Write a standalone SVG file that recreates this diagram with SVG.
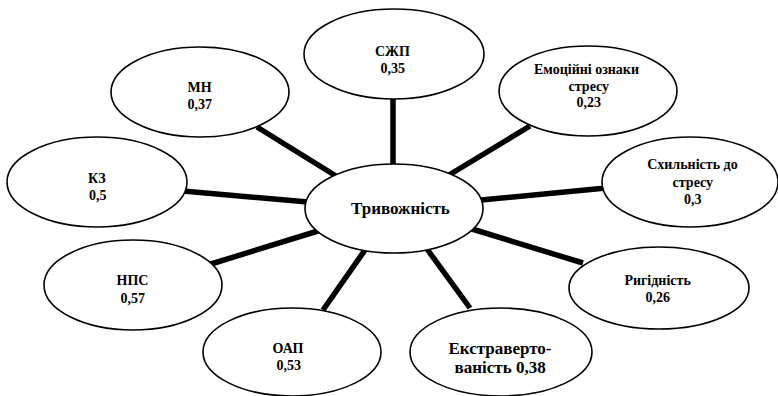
<svg xmlns="http://www.w3.org/2000/svg" width="778" height="396" viewBox="0 0 778 396">
<rect width="778" height="396" fill="#fff"/>
<g id="connectors" stroke="#000" stroke-width="5.5">
<line x1="393" y1="99" x2="393" y2="166"/>
<line x1="257" y1="127" x2="336" y2="176"/>
<line x1="183" y1="191" x2="308" y2="202"/>
<line x1="211" y1="264" x2="318" y2="231"/>
<line x1="323" y1="310" x2="365" y2="250"/>
<line x1="470" y1="308" x2="427" y2="249"/>
<line x1="472" y1="229" x2="583" y2="263"/>
<line x1="481" y1="200" x2="606" y2="188"/>
<line x1="449" y1="175" x2="530" y2="126"/>
</g>
<g id="n-szhp"><ellipse cx="394" cy="54" rx="90" ry="45" fill="#fff" stroke="#000" stroke-width="1.6"/><text font-family="Liberation Serif" font-weight="bold" font-size="14" x="375" y="56">СЖП</text><text font-family="Liberation Serif" font-weight="bold" font-size="14" x="380.5" y="73">0,35</text></g>
<g id="n-mn"><ellipse cx="200" cy="92" rx="89" ry="45" fill="#fff" stroke="#000" stroke-width="1.6"/><text font-family="Liberation Serif" font-weight="bold" font-size="14" x="187.6" y="92">МН</text><text font-family="Liberation Serif" font-weight="bold" font-size="14" x="187.5" y="109">0,37</text></g>
<g id="n-kz"><ellipse cx="97" cy="182" rx="90" ry="45" fill="#fff" stroke="#000" stroke-width="1.6"/><text font-family="Liberation Serif" font-weight="bold" font-size="14" x="88" y="183">КЗ</text><text font-family="Liberation Serif" font-weight="bold" font-size="14" x="89" y="200">0,5</text></g>
<g id="n-nps"><ellipse cx="133" cy="285" rx="89" ry="45" fill="#fff" stroke="#000" stroke-width="1.6"/><text font-family="Liberation Serif" font-weight="bold" font-size="14" x="116.6" y="285">НПС</text><text font-family="Liberation Serif" font-weight="bold" font-size="14" x="120.5" y="303">0,57</text></g>
<g id="n-oap"><ellipse cx="292" cy="352" rx="89" ry="44" fill="#fff" stroke="#000" stroke-width="1.6"/><text font-family="Liberation Serif" font-weight="bold" font-size="14" x="272.6" y="353">ОАП</text><text font-family="Liberation Serif" font-weight="bold" font-size="14" x="276.5" y="370">0,53</text></g>
<g id="n-ekstr"><ellipse cx="501" cy="352" rx="91" ry="44" fill="#fff" stroke="#000" stroke-width="1.6"/><text font-family="Liberation Serif" font-weight="bold" font-size="17" x="448.5" y="354">Екстраверто-</text><text font-family="Liberation Serif" font-weight="bold" font-size="17" x="454.6" y="373">ваність 0,38</text></g>
<g id="n-ryh"><ellipse cx="659" cy="288" rx="90" ry="41" fill="#fff" stroke="#000" stroke-width="1.6"/><text font-family="Liberation Serif" font-weight="bold" font-size="14" x="624.4" y="285">Ригідність</text><text font-family="Liberation Serif" font-weight="bold" font-size="14" x="645.5" y="302">0,26</text></g>
<g id="n-skh"><ellipse cx="690" cy="182" rx="88" ry="45" fill="#fff" stroke="#000" stroke-width="1.6"/><text font-family="Liberation Serif" font-weight="bold" font-size="14" x="647.2" y="169">Схильність до</text><text font-family="Liberation Serif" font-weight="bold" font-size="14" x="672.6" y="187">стресу</text><text font-family="Liberation Serif" font-weight="bold" font-size="14" x="684" y="204">0,3</text></g>
<g id="n-emo"><ellipse cx="588" cy="91" rx="89" ry="45" fill="#fff" stroke="#000" stroke-width="1.6"/><text font-family="Liberation Serif" font-weight="bold" font-size="14" x="534" y="74">Емоційні ознаки</text><text font-family="Liberation Serif" font-weight="bold" font-size="14" x="568.6" y="91">стресу</text><text font-family="Liberation Serif" font-weight="bold" font-size="14" x="576.5" y="107">0,23</text></g>
<g id="n-center"><ellipse cx="394" cy="208.5" rx="89" ry="44.5" fill="#fff" stroke="#000" stroke-width="1.6"/><text font-family="Liberation Serif" font-weight="bold" font-size="17" x="351" y="214">Тривожність</text></g>
</svg>
